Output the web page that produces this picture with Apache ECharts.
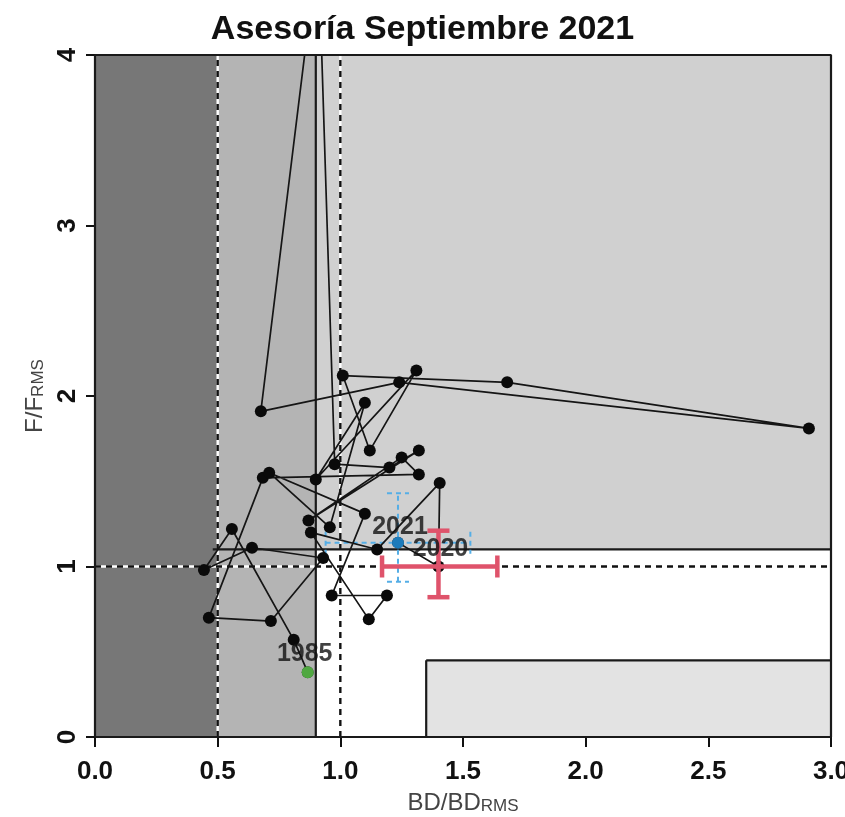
<!DOCTYPE html>
<html><head><meta charset="utf-8">
<script src="https://cdn.jsdelivr.net/npm/echarts@6/dist/echarts.min.js"></script>
<style>html,body{margin:0;padding:0;background:#fff}#c{width:845px;height:817px}</style>
</head><body><div id="c"></div>
<script>
// ---- data ----
const titleText = 'Asesoría Septiembre 2021';
const xTicks = [0, 0.5, 1, 1.5, 2, 2.5, 3];
const xTickLabels = ['0.0', '0.5', '1.0', '1.5', '2.0', '2.5', '3.0'];
const yTicks = [0, 1, 2, 3, 4];
const yTickLabels = ['0', '1', '2', '3', '4'];

// zones (BD/BDrms from-to, F/Frms from-to)
const zoneX0 = [0, 0.5, 0.9, 0.9, 1.35];
const zoneX1 = [0.5, 0.9, 3, 3, 3];
const zoneY0 = [0, 0, 1.1, 0, 0];
const zoneY1 = [4, 4, 4, 1.1, 0.45];

// reference segments [x0, y0, x1, y1]
const refSolid = [[0.9, 0, 0.9, 4], [0.48, 1.1, 3, 1.1], [1.35, 0, 1.35, 0.45], [1.35, 0.45, 3, 0.45]];
const refDashed = [[0.5, 0, 0.5, 4], [1.0, 0, 1.0, 4], [0, 1.0, 3, 1.0]];

// trajectory 1985 -> 2021
const trajBD = [0.867, 0.81, 0.558, 0.444, 0.64, 0.93, 0.717, 0.464, 0.684, 1.32, 1.25, 0.87, 1.32, 1.20, 0.977, 0.91, 0.676, 1.24, 2.91, 1.68, 1.01, 1.12, 1.31, 0.90, 1.10, 0.957, 0.71, 1.10, 0.965, 1.19, 1.116, 0.88, 1.15, 1.405, 1.40, 1.235];
const trajF  = [0.38, 0.57, 1.22, 0.98, 1.11, 1.05, 0.68, 0.70, 1.52, 1.54, 1.64, 1.27, 1.68, 1.58, 1.60, 4.65, 1.91, 2.08, 1.81, 2.08, 2.12, 1.68, 2.15, 1.51, 1.96, 1.23, 1.55, 1.31, 0.83, 0.83, 0.69, 1.20, 1.10, 1.49, 1.00, 1.14];

// labelled years
const labelYears = ['1985', '2020', '2021'];
const labelBD = [0.867, 1.40, 1.235];
const labelF = [0.38, 1.00, 1.14];

// uncertainty: [bd, f, bdLo, bdHi, fLo, fHi]
const unc2020 = [1.40, 1.00, 1.17, 1.64, 0.82, 1.21];
const unc2021 = [1.235, 1.14, 0.94, 1.53, 0.91, 1.43];

// ---- styles ----
const FONT = 'Liberation Sans, Arial, sans-serif';
const zoneColors = ['#777777', '#b4b4b4', '#d0d0d0', '#ffffff', '#e3e3e3'];
const dotColors = ['#61D04F', '#DF536B', '#2297E6'];
const labelOffsets = [[-3, -18], [2, -17], [2, -16]];

const chart = echarts.init(document.getElementById('c'), null, {renderer: 'canvas'});

function segRender(dashed) {
  return function (params, api) {
    const a = api.coord([api.value(0), api.value(1)]);
    const b = api.coord([api.value(2), api.value(3)]);
    const shape = {x1: a[0], y1: a[1], x2: b[0], y2: b[1]};
    if (!dashed) {
      return {type: 'line', shape: shape, style: {stroke: '#1a1a1a', lineWidth: 2.2}};
    }
    return {type: 'group', children: [
      {type: 'line', shape: shape, style: {stroke: '#ffffff', lineWidth: 2.4}},
      {type: 'line', shape: shape, style: {stroke: '#111111', lineWidth: 2.4, lineDash: [6, 5]}}
    ]};
  };
}

function errRender(color, width, dash) {
  return function (params, api) {
    const bd = api.value(0), f = api.value(1);
    const l = api.coord([api.value(2), f]), r = api.coord([api.value(3), f]);
    const lo = api.coord([bd, api.value(4)]), hi = api.coord([bd, api.value(5)]);
    const cap = 11;
    const st = {stroke: color, lineWidth: width, lineDash: dash || null};
    return {type: 'group', children: [
      {type: 'line', shape: {x1: l[0], y1: l[1], x2: r[0], y2: r[1]}, style: st},
      {type: 'line', shape: {x1: lo[0], y1: lo[1], x2: hi[0], y2: hi[1]}, style: st},
      {type: 'line', shape: {x1: l[0], y1: l[1] - cap, x2: l[0], y2: l[1] + cap}, style: st},
      {type: 'line', shape: {x1: r[0], y1: r[1] - cap, x2: r[0], y2: r[1] + cap}, style: st},
      {type: 'line', shape: {x1: lo[0] - cap, y1: lo[1], x2: lo[0] + cap, y2: lo[1]}, style: st},
      {type: 'line', shape: {x1: hi[0] - cap, y1: hi[1], x2: hi[0] + cap, y2: hi[1]}, style: st}
    ]};
  };
}

const subRich = {
  a: {fontSize: 24, lineHeight: 40, verticalAlign: 'bottom', color: '#444', fontFamily: FONT},
  s: {fontSize: 17, lineHeight: 24, verticalAlign: 'bottom', color: '#444', fontFamily: FONT}
};

const option = {
  animation: false,
  backgroundColor: '#ffffff',
  title: {
    text: titleText, left: 'center', top: 8,
    textStyle: {fontFamily: FONT, fontSize: 34, fontWeight: 'bold', color: '#111'}
  },
  grid: {left: 95, right: 14, top: 55, bottom: 80, containLabel: false, outerBoundsMode: 'none'},
  xAxis: {
    type: 'value', min: 0, max: 3, interval: 0.5,
    axisLine: {show: false},
    axisTick: {show: true, length: 10, lineStyle: {color: '#111', width: 2}},
    splitLine: {show: false},
    axisLabel: {
      fontFamily: FONT, fontSize: 26, fontWeight: 'bold', color: '#111', margin: 22,
      showMaxLabel: true, showMinLabel: true,
      formatter: v => xTickLabels[xTicks.indexOf(v)]
    },
    name: '{a|BD/BD}{s|RMS}', nameLocation: 'middle', nameGap: 38,
    nameTextStyle: {color: '#444', fontFamily: FONT, rich: subRich}
  },
  yAxis: {
    type: 'value', min: 0, max: 4, interval: 1,
    axisLine: {show: false},
    axisTick: {show: true, length: 9, lineStyle: {color: '#111', width: 2}},
    splitLine: {show: false},
    axisLabel: {
      rotate: 90, fontFamily: FONT, fontSize: 26, fontWeight: 'bold', color: '#111', margin: 14,
      showMaxLabel: true, showMinLabel: true,
      formatter: v => yTickLabels[yTicks.indexOf(v)]
    },
    name: '{a|F/F}{s|RMS}', nameLocation: 'middle', nameGap: 34, nameRotate: 90,
    nameTextStyle: {color: '#444', fontFamily: FONT, rich: subRich}
  },
  series: [
    {
      type: 'custom', name: 'zones', silent: true, z: 1, clip: true,
      data: zoneX0.map((v, i) => [v, zoneY0[i], zoneX1[i], zoneY1[i], i]),
      encode: {x: [0, 2], y: [1, 3]},
      renderItem: function (params, api) {
        const p0 = api.coord([api.value(0), api.value(1)]);
        const p1 = api.coord([api.value(2), api.value(3)]);
        return {type: 'rect', shape: {x: p0[0], y: p1[1], width: p1[0] - p0[0], height: p0[1] - p1[1]},
          style: {fill: zoneColors[api.value(4)]}};
      }
    },
    {
      type: 'custom', name: 'refDashed', silent: true, z: 2,
      data: refDashed, encode: {x: [0, 2], y: [1, 3]},
      renderItem: segRender(true)
    },
    {
      type: 'custom', name: 'refSolid', silent: true, z: 3,
      data: refSolid, encode: {x: [0, 2], y: [1, 3]},
      renderItem: segRender(false)
    },
    {
      type: 'custom', name: 'unc2021', silent: true, z: 4,
      data: [unc2021], encode: {x: [0, 2, 3], y: [1, 4, 5]},
      renderItem: errRender('#55aee6', 2, [5, 4])
    },
    {
      type: 'line', name: 'trajectory', z: 5, clip: true, silent: true,
      data: trajBD.map((x, i) => [x, trajF[i]]),
      symbol: 'circle', symbolSize: 12, showSymbol: true, showAllSymbol: true,
      itemStyle: {color: '#0a0a0a'},
      lineStyle: {color: '#151515', width: 1.7}
    },
    {
      type: 'custom', name: 'unc2020', silent: true, z: 6,
      data: [unc2020], encode: {x: [0, 2, 3], y: [1, 4, 5]},
      renderItem: errRender('#DF536B', 4.5)
    },
    {
      type: 'scatter', name: 'years', z: 7, silent: true,
      data: labelBD.map((x, i) => ({
        value: [x, labelF[i]],
        itemStyle: {color: dotColors[i]},
        symbolSize: i === 1 ? 7 : 12,
        label: {show: true, formatter: labelYears[i], position: 'inside', offset: labelOffsets[i],
          fontFamily: FONT, fontSize: 25, fontWeight: 'bold', color: '#111'}
      }))
    },
    {
      type: 'line', name: 'frame', z: 10, silent: true, clip: false, symbol: 'none',
      data: [[0, 0], [3, 0], [3, 4], [0, 4], [0, 0]],
      lineStyle: {color: '#1a1a1a', width: 2.2}
    }
  ]
};
chart.setOption(option);
</script></body></html>
